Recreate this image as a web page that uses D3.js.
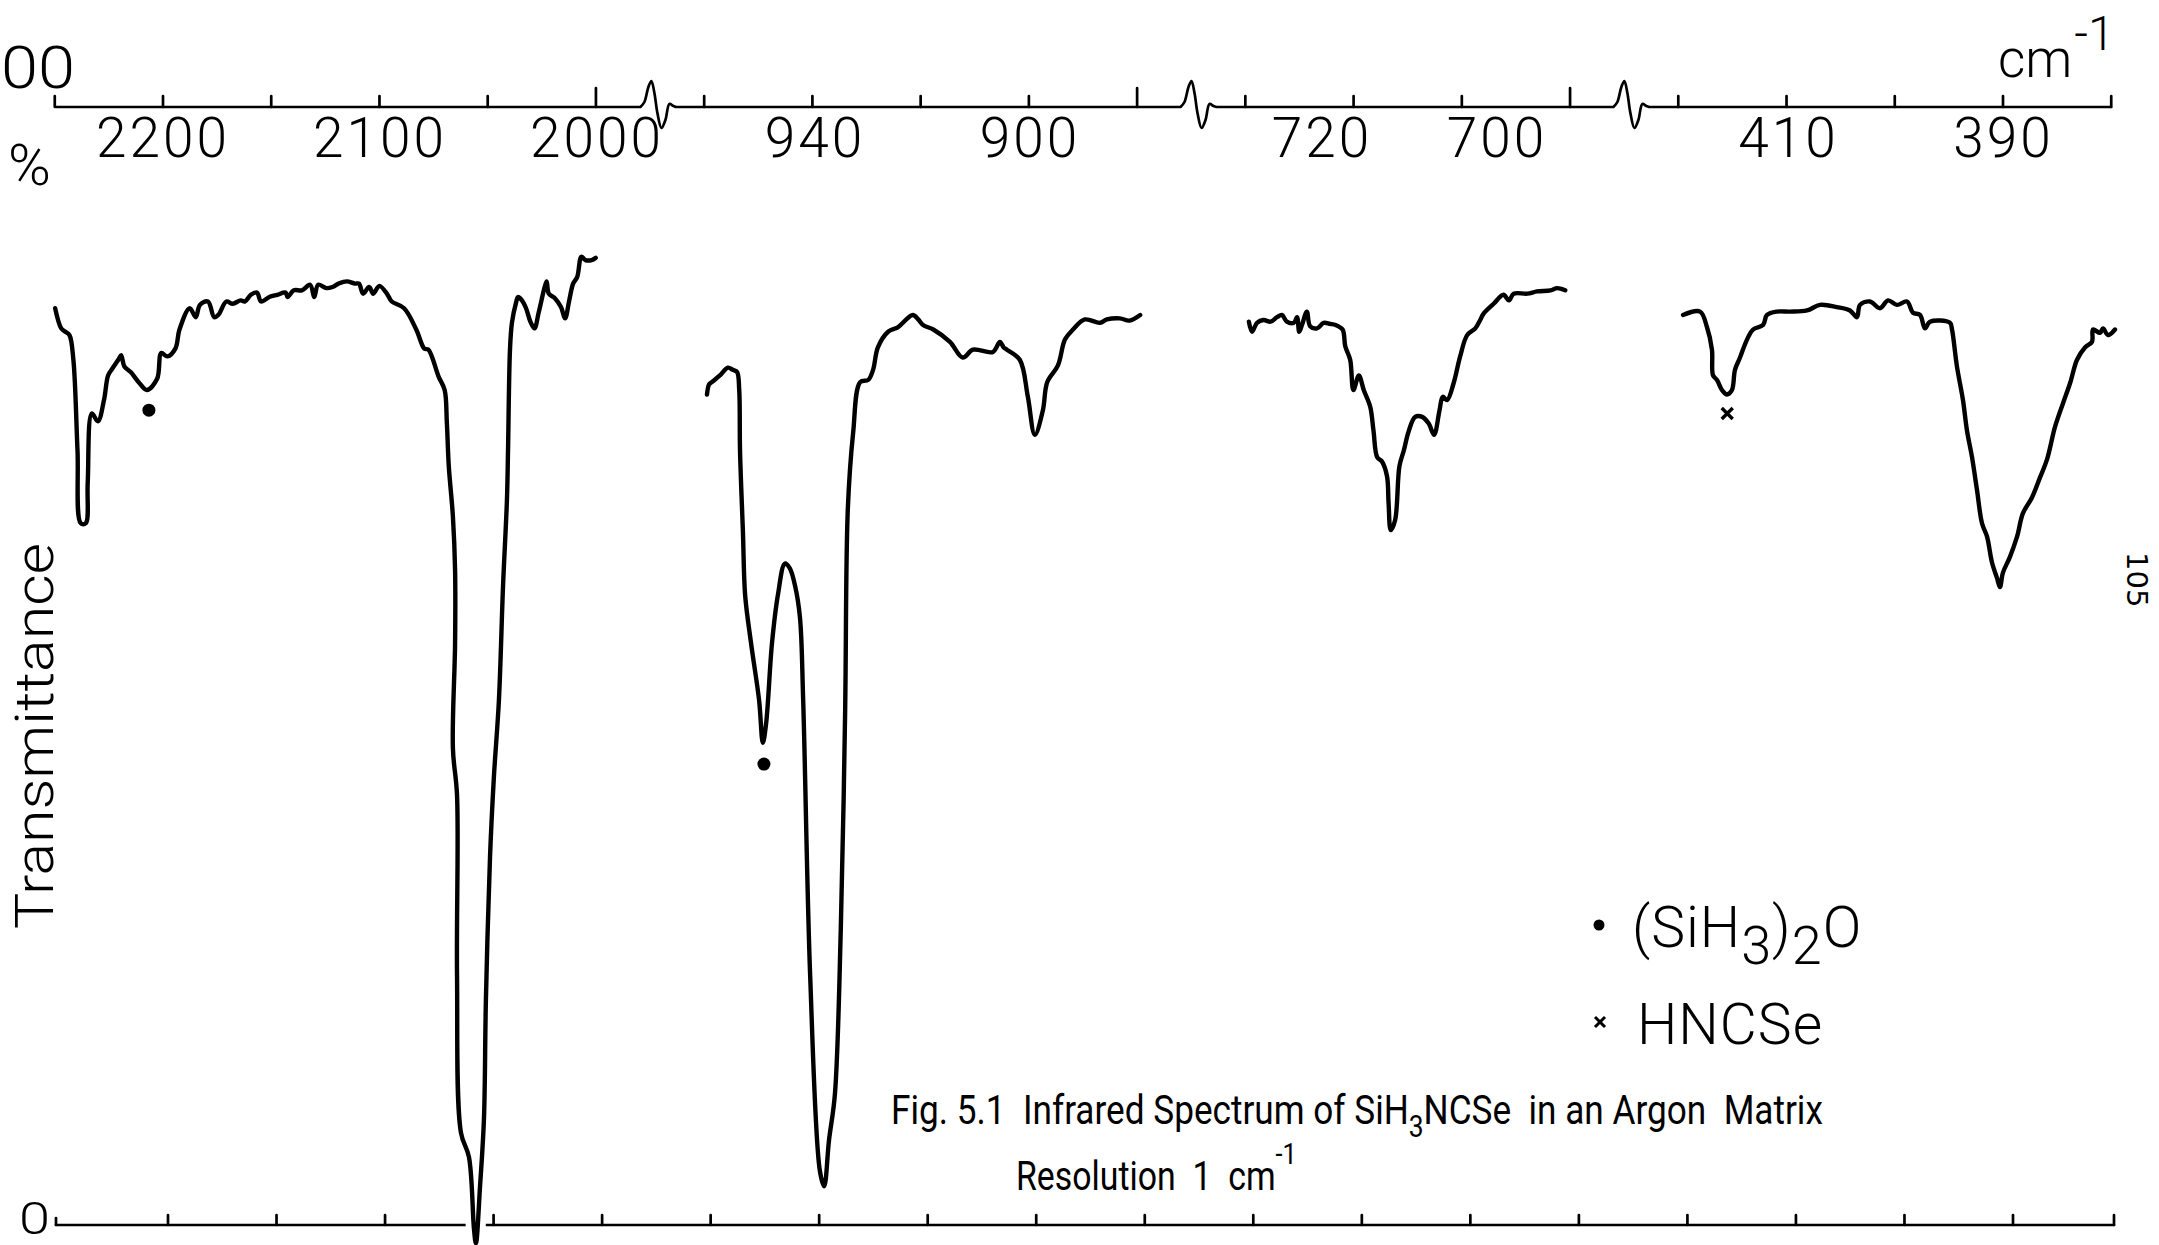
<!DOCTYPE html>
<html>
<head>
<meta charset="utf-8">
<script src="https://cdn.jsdelivr.net/npm/d3@7"></script>
<style>
  html, body { margin: 0; padding: 0; background: #fff; }
  svg { display: block; }
</style>
</head>
<body>
<svg id="chart" width="2159" height="1245"></svg>
<script>
// ---------------- DATA ----------------
// Segment 1 : 2250 - 2000 cm-1   [wavenumber, % transmittance]
const seg1 = [
  [2249.7,82.3],[2246.9,80.5],[2245.0,80.2],[2243.1,79.9],[2241.3,77.7],[2239.4,69.6],
  [2237.9,63.1],[2235.6,63.1],[2234.7,66.7],[2232.8,72.9],[2230.0,72.2],[2227.2,74.1],
  [2225.3,76.3],[2223.4,76.9],[2220.6,77.7],[2219.3,78.1],[2217.8,77.1],[2214.9,76.6],
  [2211.2,75.7],[2207.4,75.0],[2202.7,76.0],[2200.8,78.3],[2198.0,78.0],[2194.3,78.7],
  [2192.4,80.4],[2187.7,82.3],[2184.9,81.5],[2183.0,82.6],[2179.3,82.9],[2176.4,81.5],
  [2174.5,81.7],[2170.8,82.9],[2167.9,82.7],[2164.2,83.0],[2162.3,82.9],[2159.5,83.5],
  [2156.7,83.7],[2154.8,82.9],[2151.0,83.3],[2147.3,83.5],[2143.5,83.7],[2142.6,83.3],
  [2139.7,83.9],[2136.0,83.9],[2132.2,84.4],[2130.3,83.3],[2128.5,84.4],[2124.7,84.1],
  [2121.9,84.2],[2119.1,84.5],[2115.3,84.7],[2111.5,84.5],[2109.7,84.5],[2107.8,83.6],
  [2105.0,84.2],[2103.1,83.6],[2100.3,84.3],[2096.5,83.5],[2094.6,82.9],[2088.9,82.3],
  [2083.3,80.4],[2079.6,78.7],[2077.7,78.6],[2073.0,76.2],[2070.2,75.0],[2069.2,72.1],
  [2068.3,68.2],[2066.4,63.7],[2065.4,58.9],[2065.4,52.4],[2066.4,43.0],[2064.5,38.8],
  [2064.5,22.7],[2062.7,8.7],[2059.0,6.5],[2056.7,0.1],[2055.8,-1.2],[2053.9,3.9],
  [2052.1,9.9],[2051.2,20.5],[2049.3,33.3],[2047.5,40.5],[2045.2,47.3],[2043.3,57.5],
  [2041.5,65.2],[2041.0,69.6],[2040.1,78.6],[2039.2,81.0],[2037.3,82.8],[2036.4,83.3],
  [2034.6,83.0],[2032.7,82.3],[2030.7,81.1],[2028.8,80.5],[2026.9,81.9],[2024.1,84.2],
  [2023.2,84.7],[2022.2,83.6],[2019.4,83.2],[2016.6,82.4],[2014.7,81.4],[2012.8,83.0],
  [2011.0,84.5],[2009.1,85.1],[2007.2,86.9],[2005.3,86.6],[2002.5,86.6],[2000.6,86.8]
];
// Segment 2 : 960 - 880 cm-1
const seg2 = [
  [960.1,74.6],[959.7,75.5],[959.2,75.7],[957.7,76.3],[956.2,77.0],[955.3,76.8],
  [954.5,76.6],[954.1,75.0],[953.95,69.6],[953.4,62.2],[953.0,56.7],[951.9,52.4],
  [950.4,47.3],[949.7,43.5],[949.1,45.2],[948.0,52.4],[946.9,56.7],[945.6,59.5],
  [944.7,59.1],[943.7,57.5],[942.8,54.7],[942.2,47.3],[940.9,22.7],[939.1,5.3],
  [938.3,3.9],[937.4,8.0],[936.3,12.1],[935.2,26.9],[934.4,46.1],[933.9,64.3],
  [932.9,71.2],[931.6,75.7],[930.1,75.9],[929.2,76.8],[928.3,78.8],[926.4,80.2],
  [924.6,80.6],[921.8,81.7],[920.8,81.3],[919.9,80.8],[918.0,80.4],[914.9,79.3],
  [912.5,77.9],[910.6,78.6],[906.9,78.4],[905.6,79.3],[904.9,78.8],[904.3,78.6],
  [901.9,77.7],[900.4,74.4],[899.1,71.0],[897.6,73.2],[896.8,75.7],[894.8,77.2],
  [893.5,79.5],[892.0,80.4],[889.8,81.3],[887.0,81.0],[885.7,81.3],[883.3,81.4],
  [881.5,81.2],[879.5,81.7]
];
// Segment 3 : ~728 - 692 cm-1
const seg3 = [
  [728.36,81.1],[727.99,80.2],[727.43,81.0],[726.69,81.25],[725.88,81.1],[725.14,81.5],
  [724.58,81.7],[724.02,81.1],[723.22,81.0],[722.85,81.5],[722.60,80.2],[722.29,80.8],
  [721.73,82.0],[721.36,80.7],[720.56,80.5],[719.81,81.0],[719.07,80.9],[718.45,80.8],
  [717.65,80.4],[717.34,78.9],[716.78,77.7],[716.41,75.0],[715.79,76.3],[715.23,75.0],
  [714.49,73.5],[714.12,71.4],[713.69,69.0],[713.13,68.6],[712.57,67.3],[712.39,64.9],
  [712.14,62.5],[711.64,63.4],[711.15,68.2],[710.65,69.6],[710.10,71.3],[709.35,72.6],
  [708.55,72.6],[707.80,72.0],[707.19,71.0],[706.57,73.2],[706.20,74.4],[705.70,74.1],
  [704.96,75.6],[704.21,78.0],[703.41,79.9],[702.48,80.5],[701.92,81.25],[701.55,81.8],
  [700.38,82.7],[699.26,83.5],[698.64,83.0],[698.09,83.6],[696.54,83.6],[695.42,83.8],
  [693.88,83.9],[693.13,84.1],[692.20,83.9]
];
// Segment 4 : 420 - 380 cm-1
const seg4 = [
  [419.81,81.7],[418.23,82.0],[417.58,80.6],[417.12,78.6],[417.02,76.3],[416.65,75.9],
  [416.19,75.0],[415.72,74.6],[415.26,75.0],[414.98,76.8],[414.51,77.9],[413.86,79.5],
  [413.30,80.4],[412.37,80.8],[412.00,81.7],[411.07,82.0],[409.86,82.0],[408.28,82.1],
  [407.07,82.6],[405.49,82.4],[404.28,82.1],[403.63,81.5],[403.35,82.6],[402.42,82.9],
  [401.49,82.3],[400.74,83.0],[399.91,82.6],[398.98,82.9],[398.42,81.9],[397.77,81.7],
  [397.30,80.5],[396.84,81.1],[394.98,81.0],[394.79,80.4],[394.33,77.1],[393.77,74.1],
  [393.40,71.4],[392.93,69.0],[392.47,66.1],[392.00,63.1],[391.53,61.9],[391.07,59.6],
  [390.60,58.2],[390.33,57.4],[390.05,58.7],[389.40,60.1],[388.74,61.9],[388.19,64.0],
  [387.35,65.4],[386.60,67.2],[385.95,68.8],[385.21,71.7],[384.47,73.8],[383.81,75.6],
  [383.16,77.7],[382.42,78.8],[381.77,79.3],[381.67,80.4],[381.02,80.1],[380.74,80.5],
  [380.28,79.9],[379.63,80.4]
];
const segments = [seg1, seg2, seg3, seg4];

// Top-axis tick labels per section
const labels1 = [2200, 2100, 2000];
const labels2 = [940, 900];
const labels3 = [720, 700];
const labels4 = [410, 390];
const sectionLabels = [labels1, labels2, labels3, labels4];

// Chart-paper divisions (unlabelled ticks); taller ones mark the section ends
const paperTicksTop = d3.range(-1, 19);
const paperTicksBottom = d3.range(0, 18);
const tallPaperTicks = [4, 9, 13];

// Impurity markers: [section, wavenumber, %T]
const dotMarks = [[0, 2206.5, 73.2], [1, 949.5, 41.6]];
const crossMarks = [[3, 415.7, 72.9]];

// Legend
const legendItems = [
  { symbol: "dot", parts: [["(SiH", 0], ["3", 1], [")", 0], ["2", 1], ["O", 0]] },
  { symbol: "cross", parts: [["HNCSe", 0]] }
];

// Caption lines: [text, baseline shift, size factor]
const captionLine1 = [["Fig. 5.1  Infrared Spectrum of SiH", 0, 1], ["3", 13, 0.75], ["NCSe  in an Argon  Matrix", 0, 1]];
const captionLine2 = [["Resolution  1  cm", 0, 1], ["-1", -26, 0.75]];

// ---------------- LAYOUT ----------------
const svg = d3.select("#chart");
const W = 2159, H = 1245;
const Y_TOP = 107, Y_BOT = 1225;
const FONT = "Roboto, 'Open Sans', 'DejaVu Sans', sans-serif";

svg.append("rect").attr("width", W).attr("height", H).attr("fill", "#fff");

const y = d3.scaleLinear().domain([0, 100]).range([1230, 110]);

const sections = [
  { x: d3.scaleLinear().domain([2200, 2000]).range([163, 597]), extent: [2249.3, 1980] },
  { x: d3.scaleLinear().domain([940, 900]).range([815, 1030]), extent: [966, 872] },
  { x: d3.scaleLinear().domain([720, 700]).range([1322, 1497]), extent: [731.9, 686.7] },
  { x: d3.scaleLinear().domain([420, 380]).range([1681, 2111]), extent: [423, 380] }
];
const paperTop = d3.scaleLinear().domain([0, 17]).range([163, 2003]);
const paperBot = d3.scaleLinear().domain([0, 17]).range([168, 2013]);

const axisStyle = g => g.attr("stroke", "#000").attr("stroke-width", 2.7).attr("fill", "none")
  .attr("stroke-linecap", "round").attr("stroke-linejoin", "round");

// ---------- top (wavenumber) axis with break squiggles ----------
const squiggle = [[0,0],[4,-5],[8,-20],[11,-26],[14,-14],[17,6],[21,21],[25,13],[29,-3],[33,-1],[36,0]];
const sqLine = d3.line().curve(d3.curveCatmullRom.alpha(0.5));
let pathD = "";
sections.forEach((s, i) => {
  const x0 = s.x(s.extent[0]), x1 = s.x(s.extent[1]);
  pathD += (i === 0 ? "M" : "L") + x0 + "," + Y_TOP + "L" + x1 + "," + Y_TOP;
  if (i < sections.length - 1) {
    const pts = squiggle.map(p => [x1 + p[0], Y_TOP + p[1]]);
    pathD += sqLine(pts).replace(/^M[^CLQ]*/, "");
  }
});
svg.append("path").attr("d", pathD).call(axisStyle);

const topG = svg.append("g").call(axisStyle);
topG.selectAll("line").data(paperTicksTop).join("line")
  .attr("x1", d => paperTop(d)).attr("x2", d => paperTop(d))
  .attr("y1", Y_TOP).attr("y2", d => Y_TOP - (tallPaperTicks.includes(d) ? 19 : 11));

sections.forEach((s, i) => {
  svg.append("g").selectAll("text").data(sectionLabels[i]).join("text")
    .attr("x", d => s.x(d)).attr("y", 157)
    .attr("text-anchor", "middle")
    .attr("font-family", FONT).attr("font-weight", 300).attr("font-size", 55)
    .attr("letter-spacing", 3)
    .attr("fill", "#000")
    .text(d => d);
});

// cm-1 unit
const unit = svg.append("text").attr("x", 1998).attr("y", 77)
  .attr("font-family", FONT).attr("font-weight", 300).attr("font-size", 53).attr("fill", "#000");
unit.append("tspan").text("cm");
unit.append("tspan").attr("dx", 2).attr("dy", -27).attr("font-size", 48).text("-1");

// 100 % label (left edge, only "00" visible) and %
svg.append("text").attr("x", 1).attr("y", 88)
  .attr("font-family", FONT).attr("font-weight", 300).attr("font-size", 60).attr("fill", "#000")
  .attr("textLength", 74).attr("lengthAdjust", "spacingAndGlyphs").text("00");
svg.append("text").attr("x", 8).attr("y", 185)
  .attr("font-family", FONT).attr("font-weight", 300).attr("font-size", 58).attr("fill", "#000").text("%");

// 0 label (kept inside the canvas)
svg.append("text").attr("x", 19).attr("y", 1234)
  .attr("font-family", FONT).attr("font-weight", 300).attr("font-size", 44).attr("fill", "#000")
  .attr("textLength", 31).attr("lengthAdjust", "spacingAndGlyphs").text("0");

// Transmittance
svg.append("text").attr("transform", "translate(53,736) rotate(-90)")
  .attr("text-anchor", "middle")
  .attr("font-family", FONT).attr("font-weight", 300).attr("font-size", 53).attr("fill", "#000")
  .attr("textLength", 386).attr("lengthAdjust", "spacingAndGlyphs")
  .text("Transmittance");

// ---------- bottom axis (chart paper divisions) ----------
const botG = svg.append("g").call(axisStyle);
botG.append("line").attr("x1", 56).attr("x2", 2114).attr("y1", Y_BOT).attr("y2", Y_BOT);
botG.append("line").attr("x1", 56).attr("x2", 56).attr("y1", Y_BOT).attr("y2", Y_BOT - 7);
botG.append("line").attr("x1", 2114).attr("x2", 2114).attr("y1", Y_BOT).attr("y2", Y_BOT - 10);
botG.append("g").selectAll("line").data(paperTicksBottom).join("line")
  .attr("x1", d => paperBot(d)).attr("x2", d => paperBot(d))
  .attr("y1", Y_BOT).attr("y2", Y_BOT - 10);

// ---------- spectrum ----------
sections.forEach((s, i) => {
  const line = d3.line().x(d => s.x(d[0])).y(d => y(d[1])).curve(d3.curveCatmullRom.alpha(0.5));
  svg.append("path").datum(segments[i]).attr("d", line)
    .attr("fill", "none").attr("stroke", "#fff").attr("stroke-width", 16).attr("stroke-linejoin", "round");
  svg.append("path").datum(segments[i]).attr("d", line)
    .attr("fill", "none").attr("stroke", "#000").attr("stroke-width", 4.4)
    .attr("stroke-linejoin", "round").attr("stroke-linecap", "round");
});

// markers
svg.append("g").selectAll("circle").data(dotMarks).join("circle")
  .attr("cx", d => sections[d[0]].x(d[1])).attr("cy", d => y(d[2])).attr("r", 6.5).attr("fill", "#000");
const crossPath = (cx, cy, r) => `M${cx - r},${cy - r}L${cx + r},${cy + r}M${cx - r},${cy + r}L${cx + r},${cy - r}`;
svg.append("g").selectAll("path").data(crossMarks).join("path")
  .attr("d", d => crossPath(sections[d[0]].x(d[1]), y(d[2]), 5.5))
  .attr("stroke", "#000").attr("stroke-width", 3.4).attr("fill", "none");

// ---------- legend ----------
const legX = 1599, legTextX = 1632, legY0 = 947, legDy = 97;
legendItems.forEach((item, i) => {
  const by = legY0 + i * legDy;
  if (item.symbol === "dot") {
    svg.append("circle").attr("cx", legX).attr("cy", by - 22).attr("r", 5.5).attr("fill", "#000");
  } else {
    svg.append("path").attr("d", crossPath(legX + 1, by - 22, 5)).attr("stroke", "#000").attr("stroke-width", 3).attr("fill", "none");
  }
  const t = svg.append("text").attr("x", legTextX + (item.symbol === "cross" ? 5 : 0)).attr("y", by)
    .attr("font-family", FONT).attr("font-weight", 300).attr("font-size", 57)
    .attr("letter-spacing", 1).attr("fill", "#000");
  let shifted = 0;
  item.parts.forEach(p => {
    const ts = t.append("tspan").text(p[0]);
    const want = p[1] ? 17 : 0;
    if (want !== shifted) { ts.attr("dy", want - shifted); shifted = want; }
    if (p[1]) ts.attr("font-size", 54);
  });
});

// ---------- caption (condensed lettering: scaled horizontally to the reference width) ----------
function condensed(parts, x, yb, fs, targetW) {
  const t = svg.append("text").attr("x", 0).attr("y", 0)
    .attr("xml:space", "preserve").style("white-space", "pre")
    .attr("font-family", "Roboto, 'DejaVu Sans', sans-serif").attr("font-size", fs).attr("fill", "#000");
  let shifted = 0;
  parts.forEach(p => {
    const ts = t.append("tspan").text(p[0]);
    if (p[1] !== shifted) { ts.attr("dy", p[1] - shifted); shifted = p[1]; }
    if (p[2] !== 1) ts.attr("font-size", fs * p[2]);
  });
  const w = t.node().getBBox().width || targetW;
  t.attr("transform", `translate(${x},${yb}) scale(${targetW / w},1)`);
}
condensed(captionLine1, 891, 1124, 41, 932);
condensed(captionLine2, 1016, 1190, 40, 281);

// page number
svg.append("text").attr("transform", "translate(2127,552) rotate(90)")
  .attr("font-family", "'DejaVu Sans', sans-serif").attr("font-size", 29).attr("fill", "#000")
  .text("105");
</script>
</body>
</html>
